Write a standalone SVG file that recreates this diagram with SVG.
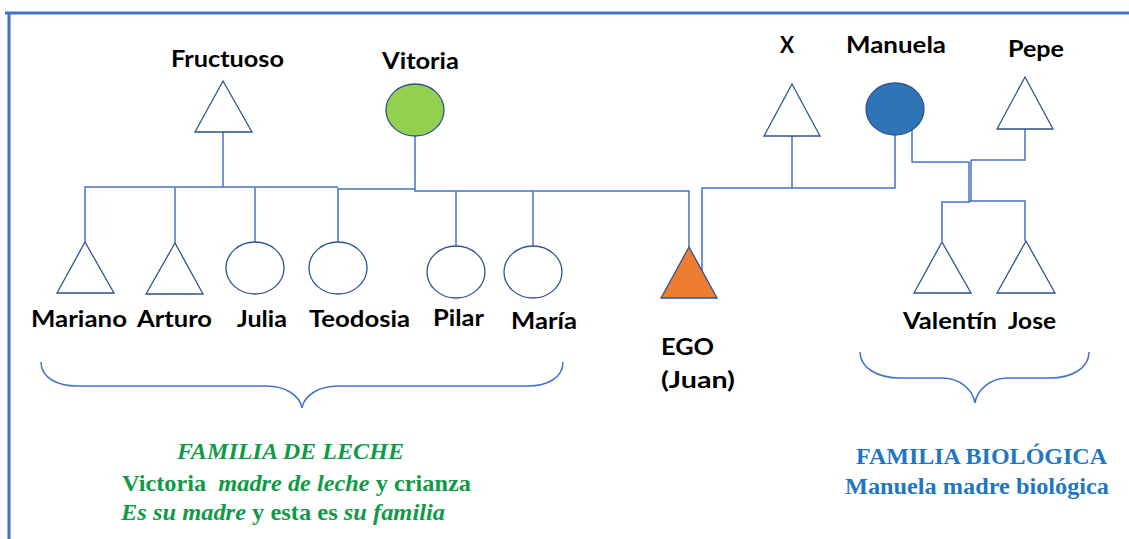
<svg xmlns="http://www.w3.org/2000/svg" width="1129" height="539" viewBox="0 0 1129 539">
<style>
.lbl{font-family:Lato,"Open Sans",sans-serif;font-weight:bold;font-size:23px;fill:#000}
.ln{fill:none;stroke:#4472C4;stroke-width:1.5}
.tri{fill:#fff;stroke:#2F528F;stroke-width:1.3}
.cir{fill:#fff;stroke:#2F528F;stroke-width:1.3}
.br{fill:none;stroke:#4472C4;stroke-width:1.5}
.g{font-family:"Liberation Serif","Times New Roman",serif;font-weight:bold;font-size:23px;fill:#0F9A48}
.b{font-family:"Liberation Serif","Times New Roman",serif;font-weight:bold;font-size:23px;fill:#1F76C2}
.i{font-style:italic}
</style>
<rect width="1129" height="539" fill="#fff"/>
<g id="frame">
<line x1="5" y1="13" x2="1129" y2="13" stroke="#4472C4" stroke-width="3"/>
<line x1="9" y1="12" x2="9" y2="539" stroke="#4472C4" stroke-width="3"/>
</g>
<g id="connectors">
<path class="ln" d="M223,132 V187" stroke-width="2"/>
<path class="ln" d="M85,242 V187 H338"/>
<path class="ln" d="M175,243 V188"/>
<path class="ln" d="M255,242 V188"/>
<path class="ln" d="M338,242 V188 V189 H415"/>
<path class="ln" d="M415,136 V191 H689 V247" stroke-width="1.8"/>
<path class="ln" d="M456,246 V191"/>
<path class="ln" d="M533,246 V191"/>
<path class="ln" d="M702,271 V188 H895 V135"/>
<path class="ln" d="M792,136 V188"/>
<path class="ln" d="M900,106 H912 V162 H969"/>
<path class="ln" d="M1025,129 V160 H971"/>
<path class="ln" d="M969,162 V202"/>
<path class="ln" d="M971,160 V202"/>
<path class="ln" d="M942,241 V202 H970"/>
<path class="ln" d="M970,201 H1025 V241"/>
</g>
<g id="fructuoso"><polygon class="tri" points="223,81 195,132 252,132"/><text class="lbl" x="171" y="67" textLength="113" lengthAdjust="spacingAndGlyphs">Fructuoso</text></g>
<g id="vitoria"><ellipse cx="415" cy="110" rx="29" ry="26" fill="#92D050" stroke="#2F528F" stroke-width="1.3"/><text class="lbl" x="382" y="69" textLength="77" lengthAdjust="spacingAndGlyphs">Vitoria</text></g>
<g id="x"><polygon class="tri" points="792,84 764,136 820,136"/><text class="lbl" x="780" y="53" textLength="14" lengthAdjust="spacingAndGlyphs">X</text></g>
<g id="manuela"><ellipse cx="895" cy="109" rx="29" ry="26" fill="#2E75B6" stroke="#2F528F" stroke-width="1.3"/><text class="lbl" x="846" y="53" textLength="100" lengthAdjust="spacingAndGlyphs">Manuela</text></g>
<g id="pepe"><polygon class="tri" points="1025,77 997,129 1053,129"/><text class="lbl" x="1008" y="57" textLength="56" lengthAdjust="spacingAndGlyphs">Pepe</text></g>
<g id="mariano"><polygon class="tri" points="85,242 57,293 114,293"/><text class="lbl" x="31" y="327" textLength="96" lengthAdjust="spacingAndGlyphs">Mariano</text></g>
<g id="arturo"><polygon class="tri" points="175,243 146,294 203,294"/><text class="lbl" x="137" y="327" textLength="75" lengthAdjust="spacingAndGlyphs">Arturo</text></g>
<g id="julia"><ellipse class="cir" cx="255" cy="268" rx="29" ry="26"/><text class="lbl" x="237" y="327" textLength="50" lengthAdjust="spacingAndGlyphs">Julia</text></g>
<g id="teodosia"><ellipse class="cir" cx="338" cy="268" rx="29" ry="26"/><text class="lbl" x="309" y="327" textLength="101" lengthAdjust="spacingAndGlyphs">Teodosia</text></g>
<g id="pilar"><ellipse class="cir" cx="456" cy="272" rx="29" ry="26"/><text class="lbl" x="433" y="326" textLength="51" lengthAdjust="spacingAndGlyphs">Pilar</text></g>
<g id="maria"><ellipse class="cir" cx="533" cy="272" rx="29" ry="26"/><text class="lbl" x="511" y="329" textLength="66" lengthAdjust="spacingAndGlyphs">María</text></g>
<g id="ego"><polygon points="689,247 661,298 717,298" fill="#ED7D31" stroke="#2F528F" stroke-width="1.3"/><text class="lbl" x="661" y="355" textLength="53" lengthAdjust="spacingAndGlyphs">EGO</text><text class="lbl" x="661" y="388" textLength="74" lengthAdjust="spacingAndGlyphs">(Juan)</text></g>
<g id="valentin"><polygon class="tri" points="942,242 914,293 971,293"/><text class="lbl" x="903" y="329" textLength="94" lengthAdjust="spacingAndGlyphs">Valentín</text></g>
<g id="jose"><polygon class="tri" points="1026,241 997,293 1055,293"/><text class="lbl" x="1008" y="329" textLength="48" lengthAdjust="spacingAndGlyphs">Jose</text></g>
<g id="brackets">
<path class="br" d="M41,362 C41,378 58,386 77,386 H266 C286,386 300,396 302,408 C304,396 318,386 338,386 H528 C547,386 563,378 563,362"/>
<path class="br" d="M860,352 C860,368 878,378 900,378 H942 C960,378 973,390 975,403 C977,390 990,378 1008,378 H1050 C1072,378 1089,368 1089,352"/>
</g>
<g id="leche-text">
<text class="g i" x="177" y="459" textLength="227" lengthAdjust="spacingAndGlyphs">FAMILIA DE LECHE</text>
<text class="g" x="122" y="491" textLength="349" lengthAdjust="spacingAndGlyphs" xml:space="preserve">Victoria  <tspan class="i">madre de leche</tspan> y crianza</text>
<text class="g" x="121" y="520" textLength="324" lengthAdjust="spacingAndGlyphs"><tspan class="i">Es su madre</tspan> y esta es <tspan class="i">su familia</tspan></text>
</g>
<g id="bio-text">
<text class="b" x="856" y="464" textLength="251" lengthAdjust="spacingAndGlyphs">FAMILIA BIOLÓGICA</text>
<text class="b" x="845" y="494" textLength="264" lengthAdjust="spacingAndGlyphs">Manuela madre biológica</text>
</g>
</svg>
